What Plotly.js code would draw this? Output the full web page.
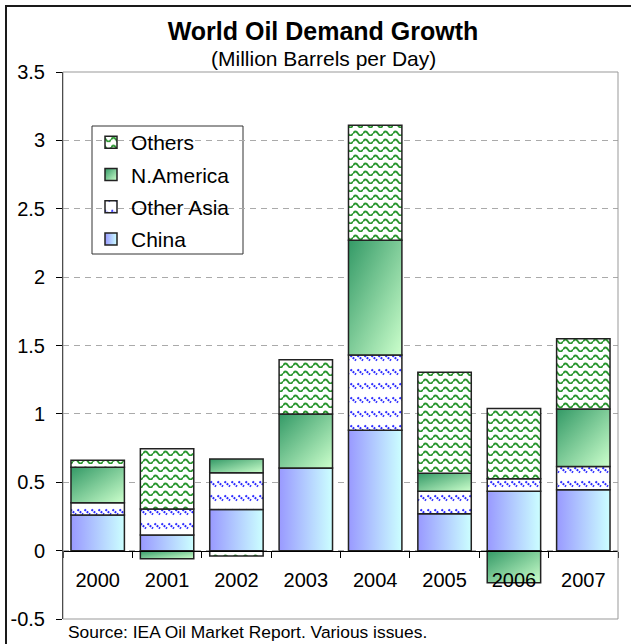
<!DOCTYPE html>
<html><head><meta charset="utf-8">
<script src="https://cdn.plot.ly/plotly-3.0.1.min.js"></script>
<style>html,body{margin:0;padding:0;background:#fff;} #chart{width:631px;height:644px;}</style>
</head><body><div id="chart"></div>
<script>
var years = ['2000','2001','2002','2003','2004','2005','2006','2007'];
var china = [0.26, 0.115, 0.30, 0.605, 0.88, 0.27, 0.435, 0.445];
var otherAsia = [0.09, 0.19, 0.27, 0, 0.55, 0.165, 0.09, 0.17];
var nAmerica = [0.26, -0.06, 0.10, 0.395, 0.84, 0.13, -0.235, 0.42];
var others = [0.05, 0.44, -0.04, 0.395, 0.84, 0.74, 0.515, 0.515];
var yTickVals = [-0.5, 0, 0.5, 1, 1.5, 2, 2.5, 3, 3.5];
var yTickText = ['-0.5', '0', '0.5', '1', '1.5', '2', '2.5', '3', '3.5'];
var seriesNames = ['China', 'Other Asia', 'N.America', 'Others'];
var legendRanks = [4, 3, 2, 1];
var fallbackColors = ['#b3d9ff', '#ffffff', '#7fbf8f', '#ffffff'];
var seriesValues = [china, otherAsia, nAmerica, others];

var FONT = "'Liberation Sans', Arial, sans-serif";
var traces = seriesNames.map(function (n, i) {
  return {
    type: 'bar', name: n, x: years, y: seriesValues[i], legendgroup: n, legendrank: legendRanks[i],
    marker: {color: fallbackColors[i], line: {color: '#222', width: 1.5}},
    hoverinfo: 'skip'
  };
});

var layout = {
  width: 631, height: 644,
  margin: {l: 63, r: 13, t: 72, b: 25, pad: 0},
  paper_bgcolor: '#fff', plot_bgcolor: '#fff',
  font: {family: FONT, color: '#000', size: 20},
  barmode: 'relative', bargap: 0.23,
  showlegend: true,
  legend: {
    x: (91 - 63) / 555, y: (619 - 122) / 547, xanchor: 'left', yanchor: 'top',
    bgcolor: 'rgba(0,0,0,0)', borderwidth: 0,
    font: {family: FONT, size: 21, color: '#000'},
    traceorder: 'grouped', tracegroupgap: 2
  },
  title: {
    text: '<b>World Oil Demand Growth</b>',
    font: {family: FONT, size: 25, color: '#000'},
    x: 323 / 631, xanchor: 'center', xref: 'container',
    y: 1 - 31 / 644, yanchor: 'middle', yref: 'container'
  },
  xaxis: {
    type: 'category', anchor: 'free', position: 0.125,
    showline: true, linecolor: '#000', linewidth: 1,
    ticks: 'outside', tickson: 'boundaries', ticklen: 6, tickcolor: '#000',
    tickfont: {family: FONT, size: 20, color: '#000'},
    ticklabelstandoff: 11,
    showgrid: false, zeroline: false
  },
  yaxis: {
    range: [-0.5, 3.5], tickvals: yTickVals, ticktext: yTickText,
    showline: true, linecolor: '#000', linewidth: 1,
    ticks: 'outside', ticklen: 6, tickcolor: '#000',
    tickfont: {family: FONT, size: 20, color: '#000'},
    ticklabelstandoff: 7,
    showgrid: true, gridcolor: '#aaaaaa', gridwidth: 1, griddash: '6px,5px',
    zeroline: false
  },
  shapes: [
    {type: 'rect', xref: 'paper', yref: 'paper', x0: 0, x1: 1, y0: 0, y1: 1,
     line: {color: '#999', width: 1}, layer: 'above'},
    {type: 'rect', xref: 'paper', yref: 'paper',
     x0: (92 - 63) / 555, x1: (243 - 63) / 555, y0: (619 - 254) / 547, y1: (619 - 126) / 547,
     fillcolor: '#fff', line: {color: '#333', width: 1}, layer: 'between'},
    {type: 'path', xref: 'paper', yref: 'paper',
     path: 'M -0.1027,-0.08 L -0.1027,1.1207 L 1.06,1.1207',
     line: {color: '#1a1a1a', width: 2}}
  ],
  annotations: [
    {text: '(Million Barrels per Day)', xref: 'paper', yref: 'paper',
     x: (323 - 63) / 555, y: (619 - 59) / 547, xanchor: 'center', yanchor: 'middle',
     showarrow: false, font: {family: FONT, size: 21, color: '#000'}},
    {text: 'Source: IEA Oil Market Report. Various issues.', xref: 'paper', yref: 'paper',
     x: 3 / 555, y: (619 - 632) / 547, xanchor: 'left', yanchor: 'middle',
     showarrow: false, font: {family: FONT, size: 17.4, color: '#000'}}
  ]
};

var NS = 'http://www.w3.org/2000/svg';
function mk(tag, attrs, parent) {
  var e = document.createElementNS(NS, tag);
  for (var k in attrs) e.setAttribute(k, attrs[k]);
  if (parent) parent.appendChild(e);
  return e;
}
function applyFills(gd) {
  var svg = gd.querySelector('svg.main-svg');
  var defs = svg.querySelector('defs') || mk('defs', {}, svg);
  var g1 = mk('linearGradient', {id: 'gChina', x1: 0, y1: 0, x2: 1, y2: 0}, defs);
  mk('stop', {offset: '0', 'stop-color': '#9999ff'}, g1);
  mk('stop', {offset: '1', 'stop-color': '#ccffff'}, g1);
  var g2 = mk('linearGradient', {id: 'gNA', x1: 0, y1: 0, x2: 1, y2: 1}, defs);
  mk('stop', {offset: '0', 'stop-color': '#339966'}, g2);
  mk('stop', {offset: '1', 'stop-color': '#ccffcc'}, g2);
  var p1 = mk('pattern', {id: 'pOA', patternUnits: 'userSpaceOnUse', width: 7, height: 14}, defs);
  mk('rect', {x: 0, y: 0, width: 7, height: 14, fill: '#fff'}, p1);
  mk('path', {d: 'M0.5,3.5 L6,8.5', stroke: '#2a2aff', 'stroke-width': 2, 'stroke-dasharray': '2,1', fill: 'none'}, p1);
  var p2 = mk('pattern', {id: 'pOth', patternUnits: 'userSpaceOnUse', width: 10, height: 8}, defs);
  mk('rect', {x: 0, y: 0, width: 10, height: 8, fill: '#fff'}, p2);
  mk('path', {d: 'M0,5.5 Q2.5,1.5 5,5.5 T10,5.5', stroke: '#2a962f', 'stroke-width': 1.8, fill: 'none'}, p2);
  var fills = {'China': 'url(#gChina)', 'Other Asia': 'url(#pOA)', 'N.America': 'url(#gNA)', 'Others': 'url(#pOth)'};

  var bt = gd.querySelectorAll('.barlayer .trace');
  bt.forEach(function (t, i) {
    var name = seriesNames[i];
    try { name = t.__data__[0].trace.name || name; } catch (e) {}
    t.querySelectorAll('path').forEach(function (p) {
      p.style.setProperty('fill', fills[name]);
      p.style.setProperty('fill-opacity', '1');
    });
  });
  gd.querySelectorAll('.legend .traces').forEach(function (t) {
    var txt = t.querySelector('.legendtext');
    var name = txt ? txt.textContent : '';
    if (!fills[name]) return;
    t.querySelectorAll('.legendpoints path').forEach(function (p) {
      p.style.setProperty('fill', fills[name]);
      p.style.setProperty('fill-opacity', '1');
    });
  });
}

var gd = document.getElementById('chart');
Plotly.newPlot(gd, traces, layout, {staticPlot: true, displayModeBar: false}).then(function () { applyFills(gd); });
</script>
</body></html>
